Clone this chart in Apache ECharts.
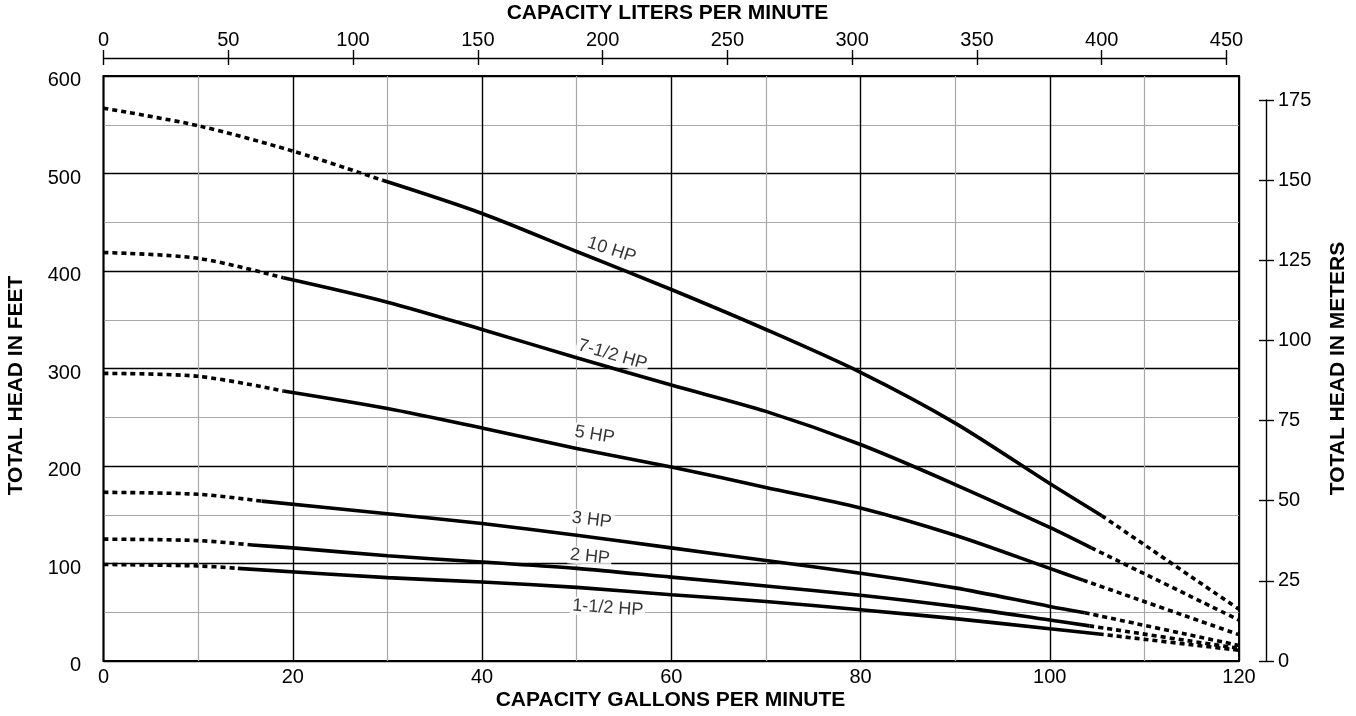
<!DOCTYPE html>
<html><head><meta charset="utf-8">
<script src="https://cdn.jsdelivr.net/npm/echarts@6/dist/echarts.min.js"></script>
<style>html,body{margin:0;padding:0;background:#fff}#c{width:1356px;height:716px}</style>
</head><body><div id="c"></div>
<script>
// ---- data (GPM on x, total head in feet on y) ----
const hp10Gpm   = [0, 10, 20, 29.5, 40, 50, 60, 70, 80, 90, 100, 105.5, 120];
const hp10Feet  = [567, 549, 523, 493, 459, 420, 381, 340, 296, 244, 182, 149, 53];
const hp10Solid = [29.5, 105.5];

const hp75Gpm   = [0, 10, 19, 30, 40, 50, 60, 70, 80, 90, 100, 104.4, 120];
const hp75Feet  = [419, 413, 393, 368, 340, 311, 283, 256, 222, 181, 137, 116, 42];
const hp75Solid = [19, 104.4];

const hp5Gpm    = [0, 10, 19, 30, 40, 50, 60, 70, 80, 90, 100, 103.5, 120];
const hp5Feet   = [295, 292, 277, 259, 239, 218, 199, 178, 157, 129, 95, 83, 27];
const hp5Solid  = [19, 103.5];

const hp3Gpm    = [0, 10, 16.7, 30, 40, 50, 60, 70, 80, 90, 100, 103.7, 120];
const hp3Feet   = [173, 171, 164, 151, 141, 129, 116, 103, 90, 75, 56, 49.5, 16];
const hp3Solid  = [16.7, 103.7];

const hp2Gpm    = [0, 10, 15.7, 20, 30, 40, 50, 60, 70, 80, 90, 100, 104.2, 120];
const hp2Feet   = [125, 123.5, 119, 116, 108, 101.5, 95, 86, 77, 67.5, 56, 42, 36, 13];
const hp2Solid  = [15.7, 104.2];

const hp15Gpm   = [0, 10, 14.2, 30, 40, 50, 60, 70, 80, 90, 100, 105.2, 120];
const hp15Feet  = [99, 97.5, 95, 85.5, 81, 75.5, 68, 61, 52.5, 43.5, 33, 27.7, 11];
const hp15Solid = [14.2, 105.2];

const curveNames = ['10 HP', '7-1/2 HP', '5 HP', '3 HP', '2 HP', '1-1/2 HP'];

// axis ranges
const gpmMax = 120, gpmStep = 20;
const feetMax = 600, feetStep = 100;
const litersMax = 450, litersStep = 50;
const metersMax = 175, metersStep = 25;

// ---- build ----
const FONT = '"Liberation Sans", Arial, Helvetica, sans-serif';
const solidStyle = {color: '#000', width: 3.6, type: 'solid', cap: 'butt'};
const dotStyle = {color: '#000', width: 3.6, type: [5, 4], cap: 'butt'};

function curveSeries(name, gpm, feet, solid) {
  const pts = gpm.map((g, i) => [g, feet[i]]);
  const parts = [
    [pts.filter(p => p[0] <= solid[0]), dotStyle],
    [pts.filter(p => p[0] >= solid[0] && p[0] <= solid[1]), solidStyle],
    [pts.filter(p => p[0] >= solid[1]), dotStyle]
  ];
  return parts.map(([d, ls]) => ({
    type: 'line', name: name, data: d, xAxisIndex: 0, yAxisIndex: 0,
    symbol: 'none', smooth: 0.3, lineStyle: ls,
    z: 4, silent: true, animation: false
  }));
}

const curves = [
  [hp10Gpm, hp10Feet, hp10Solid],
  [hp75Gpm, hp75Feet, hp75Solid],
  [hp5Gpm, hp5Feet, hp5Solid],
  [hp3Gpm, hp3Feet, hp3Solid],
  [hp2Gpm, hp2Feet, hp2Solid],
  [hp15Gpm, hp15Feet, hp15Solid]
];

let series = [];
curves.forEach((c, i) => { series = series.concat(curveSeries(curveNames[i], c[0], c[1], c[2])); });

// curve labels placed in data units
const labelPlacement = [
  {name: curveNames[0], value: [53.7, 421.5], rot: -18},
  {name: curveNames[1], value: [53.8, 314], rot: -16},
  {name: curveNames[2], value: [51.9, 232], rot: -9.5},
  {name: curveNames[3], value: [51.6, 144.6], rot: -7},
  {name: curveNames[4], value: [51.4, 107], rot: -6},
  {name: curveNames[5], value: [53.3, 54.4], rot: -4}
];
series.push({
  type: 'scatter', xAxisIndex: 0, yAxisIndex: 0, symbolSize: 1,
  itemStyle: {color: 'transparent'}, z: 2, silent: true, animation: false,
  data: labelPlacement.map(l => ({
    name: l.name, value: l.value,
    label: {rotate: l.rot}
  })),
  label: {
    show: true, position: 'inside', formatter: '{b}', color: '#000',
    fontFamily: FONT, fontSize: 18, backgroundColor: '#fff', padding: [0, 2]
  }
});

const labelStyle = {color: '#000', fontFamily: FONT, fontSize: 20};

const option = {
  backgroundColor: '#fff',
  animation: false,
  textStyle: {fontFamily: FONT},
  grid: [
    {left: 103.5, top: 76, width: 1135.5, height: 585, show: true, borderColor: '#000', borderWidth: 2, backgroundColor: 'transparent', outerBoundsMode: 'none', containLabel: false},
    {left: 103.5, top: 58, width: 1123, height: 10, outerBoundsMode: 'none', containLabel: false},
    {left: 1256, top: 100, width: 10, height: 561, outerBoundsMode: 'none', containLabel: false}
  ],
  xAxis: [
    {type: 'value', gridIndex: 0, position: 'bottom', min: 0, max: gpmMax, interval: gpmStep,
     axisLine: {show: false}, axisTick: {show: false},
     axisLabel: Object.assign({margin: 6}, labelStyle),
     splitLine: {show: true, lineStyle: {color: '#000', width: 1.4}},
     minorTick: {show: false, splitNumber: 2},
     minorSplitLine: {show: true, lineStyle: {color: '#a8a8a8', width: 1.2}}},
    {type: 'value', gridIndex: 1, position: 'top', min: 0, max: litersMax, interval: litersStep,
     axisLine: {show: true, onZero: false, lineStyle: {color: '#000', width: 1.4}},
     axisTick: {show: true, inside: false, length: 8, lineStyle: {color: '#000', width: 1.4}},
     axisLabel: Object.assign({margin: 8}, labelStyle),
     splitLine: {show: false}},
    {type: 'value', gridIndex: 1, position: 'top', min: 0, max: litersMax, interval: litersStep,
     axisLine: {show: false, onZero: false},
     axisTick: {show: true, inside: true, length: 7, lineStyle: {color: '#000', width: 1.4}},
     axisLabel: {show: false}, splitLine: {show: false}},
    {type: 'value', gridIndex: 2, show: false, min: 0, max: 1}
  ],
  yAxis: [
    {type: 'value', gridIndex: 0, position: 'left', min: 0, max: feetMax, interval: feetStep,
     axisLine: {show: false}, axisTick: {show: false},
     axisLabel: Object.assign({margin: 22.5, verticalAlign: 'top', lineHeight: 9}, labelStyle),
     splitLine: {show: true, lineStyle: {color: '#000', width: 1.4}},
     minorTick: {show: false, splitNumber: 2},
     minorSplitLine: {show: true, lineStyle: {color: '#a8a8a8', width: 1.2}}},
    {type: 'value', gridIndex: 1, show: false, min: 0, max: 1},
    {type: 'value', gridIndex: 2, position: 'right', min: 0, max: metersMax, interval: metersStep,
     axisLine: {show: true, onZero: false, lineStyle: {color: '#000', width: 1.4}},
     axisTick: {show: true, inside: false, length: 8, lineStyle: {color: '#000', width: 1.4}},
     axisLabel: Object.assign({margin: 12}, labelStyle),
     splitLine: {show: false}},
    {type: 'value', gridIndex: 2, position: 'right', min: 0, max: metersMax, interval: metersStep,
     axisLine: {show: false, onZero: false},
     axisTick: {show: true, inside: true, length: 7, lineStyle: {color: '#000', width: 1.4}},
     axisLabel: {show: false}, splitLine: {show: false}}
  ],
  graphic: [
    {type: 'text', x: 667.5, y: 13, silent: true,
     style: {text: 'CAPACITY LITERS PER MINUTE', fill: '#000', font: 'bold 21px ' + FONT, align: 'center', verticalAlign: 'middle'}},
    {type: 'text', x: 670.5, y: 700, silent: true,
     style: {text: 'CAPACITY GALLONS PER MINUTE', fill: '#000', font: 'bold 21px ' + FONT, align: 'center', verticalAlign: 'middle'}},
    {type: 'text', x: 16, y: 385.5, rotation: Math.PI / 2, silent: true,
     style: {text: 'TOTAL HEAD IN FEET', fill: '#000', font: 'bold 21px ' + FONT, align: 'center', verticalAlign: 'middle'}},
    {type: 'text', x: 1338, y: 368.5, rotation: Math.PI / 2, silent: true,
     style: {text: 'TOTAL HEAD IN METERS', fill: '#000', font: 'bold 21px ' + FONT, align: 'center', verticalAlign: 'middle'}}
  ],
  series: series
};

const chart = echarts.init(document.getElementById('c'), null, {renderer: 'canvas'});
chart.setOption(option);
</script>
</body></html>
